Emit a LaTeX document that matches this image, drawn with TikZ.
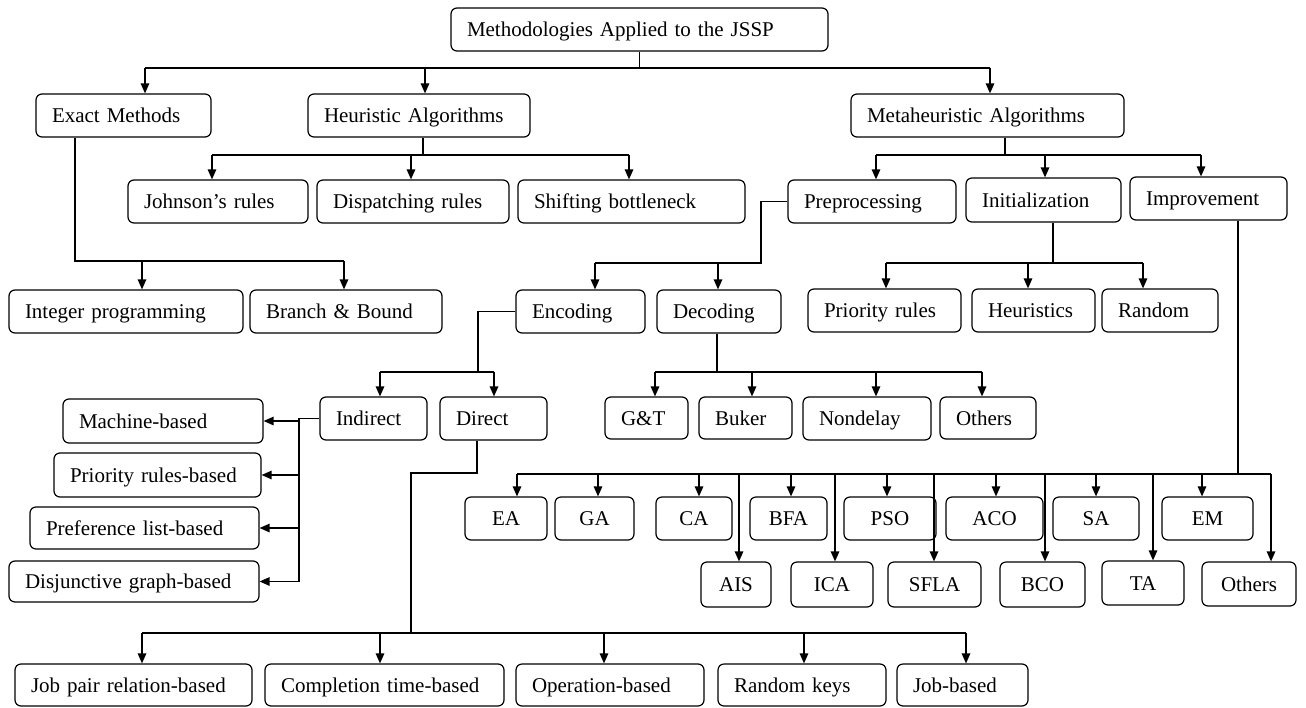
\documentclass[tikz,border=0pt]{standalone}
\usepackage{fontspec}
\setmainfont{Liberation Serif}
\usetikzlibrary{arrows.meta}
\tikzset{
  bx/.style={draw=black, line width=1.2pt, rounded corners=6pt, inner ysep=0pt,
    text height=14pt, text depth=0pt, font=\fontsize{21}{25}\selectfont, text=black},
  ln/.style={draw=black, line width=1.3pt},
  arr/.style={ln, -{Triangle[length=10pt,width=8.5pt]}},
}
\newcommand\Lbox[6]{%
  \pgfmathsetmacro\myBW{#4-#2}\pgfmathsetmacro\myBH{#5-#3}%
  \pgfmathsetmacro\myTW{#4-#2-32}%
  \pgfmathsetmacro\myCX{(#2+#4)/2}\pgfmathsetmacro\myCY{(#3+#5)/2}%
  \node[bx, align=left, inner xsep=16pt, text width=\myTW pt, minimum width=\myBW pt,
    minimum height=\myBH pt] (#1) at (\myCX,\myCY) {#6};}
\newcommand\Cbox[6]{%
  \pgfmathsetmacro\myBW{#4-#2}\pgfmathsetmacro\myBH{#5-#3}%
  \pgfmathsetmacro\myCX{(#2+#4)/2}\pgfmathsetmacro\myCY{(#3+#5)/2}%
  \node[bx, align=center, inner xsep=0pt, text width=\myBW pt, minimum width=\myBW pt,
    minimum height=\myBH pt] (#1) at (\myCX,\myCY) {#6};}
\begin{document}
\begin{tikzpicture}[x=1pt,y=-1pt]
\useasboundingbox (0,0) rectangle (1306,707);
% ---- boxes
\Lbox{top}{451}{8}{828}{51}{Methodologies Applied to the JSSP}
\Lbox{exact}{36}{94}{211}{137}{Exact Methods}
\Lbox{heur}{308}{94}{530}{137}{Heuristic Algorithms}
\Lbox{meta}{851}{94}{1124}{137}{Metaheuristic Algorithms}
\Lbox{john}{128}{180}{308}{223}{Johnson’s rules}
\Lbox{disp}{317}{180}{509}{223}{Dispatching rules}
\Lbox{shift}{518}{180}{745}{223}{Shifting bottleneck}
\Lbox{prep}{788}{180}{956}{223}{Preprocessing}
\Lbox{init}{966}{178}{1121}{222}{Initialization}
\Lbox{impr}{1130}{177}{1287}{220}{Improvement}
\Lbox{intp}{9}{290}{243}{333}{Integer programming}
\Lbox{bb}{250}{290}{442}{333}{Branch \& Bound}
\Lbox{enc}{516}{290}{645}{333}{Encoding}
\Lbox{dec}{657}{290}{781}{333}{Decoding}
\Lbox{prio}{808}{289}{961}{332}{Priority rules}
\Lbox{heurs}{972}{289}{1095}{332}{Heuristics}
\Lbox{rand}{1102}{289}{1218}{332}{Random}
\Lbox{indir}{320}{397}{427}{440}{Indirect}
\Lbox{direct}{440}{397}{547}{440}{Direct}
\Lbox{gt}{605}{397}{688}{439}{G\&T}
\Lbox{buker}{699}{397}{792}{439}{Buker}
\Lbox{nondel}{803}{397}{931}{440}{Nondelay}
\Lbox{othA}{940}{397}{1036}{439}{Others}
\Lbox{mach}{63}{399}{263}{443}{Machine-based}
\Lbox{prb}{54}{453}{261}{497}{Priority rules-based}
\Lbox{pref}{30}{507}{259}{549}{Preference list-based}
\Lbox{disj}{9}{561}{259}{602}{Disjunctive graph-based}
\Cbox{ea}{465}{497}{547}{540}{EA}
\Cbox{ga}{555}{497}{634}{540}{GA}
\Cbox{ca}{656}{497}{732}{540}{CA}
\Cbox{bfa}{750}{497}{827}{540}{BFA}
\Cbox{pso}{844}{497}{936}{540}{PSO}
\Cbox{aco}{946}{497}{1043}{540}{ACO}
\Cbox{sa}{1053}{497}{1139}{540}{SA}
\Cbox{em}{1162}{497}{1253}{540}{EM}
\Cbox{ais}{701}{562}{771}{607}{AIS}
\Cbox{ica}{791}{562}{873}{607}{ICA}
\Cbox{sfla}{888}{562}{981}{607}{SFLA}
\Cbox{bco}{1000}{562}{1085}{607}{BCO}
\Cbox{ta}{1102}{561}{1184}{605}{TA}
\Cbox{othB}{1202}{562}{1296}{606}{Others}
\Lbox{jp}{15}{664}{252}{706}{Job pair relation-based}
\Lbox{ct}{265}{664}{504}{706}{Completion time-based}
\Lbox{op}{516}{664}{704}{706}{Operation-based}
\Lbox{rk}{718}{664}{886}{706}{Random keys}
\Lbox{jb}{897}{664}{1028}{706}{Job-based}
% ---- connectors
% root
\coordinate (b1) at (640,68);
\draw[ln] (top.south) -- (top.south |- b1);
\draw[ln] (145,0 |- b1) -- (990,0 |- b1);
\foreach \xx/\nn in {145/exact,425/heur,990/meta}
  \draw[arr] (\xx,0 |- b1) -- (\xx,0 |- \nn.north);
% heuristic
\coordinate (b2) at (423,155);
\draw[ln] (423,0 |- heur.south) -- (b2);
\draw[ln] (212,0 |- b2) -- (629,0 |- b2);
\foreach \xx/\nn in {212/john,411/disp,629/shift}
  \draw[arr] (\xx,0 |- b2) -- (\xx,0 |- \nn.north);
% exact
\coordinate (b3) at (75,261);
\draw[ln] (75,0 |- exact.south) -- (b3) -- (344,0 |- b3);
\foreach \xx/\nn in {142/intp,344/bb}
  \draw[arr] (\xx,0 |- b3) -- (\xx,0 |- \nn.north);
% metaheuristic
\coordinate (b4) at (1005,155);
\draw[ln] (1005,0 |- meta.south) -- (b4);
\draw[ln] (876,0 |- b4) -- (1201,0 |- b4);
\foreach \xx/\nn in {876/prep,1045/init,1201/impr}
  \draw[arr] (\xx,0 |- b4) -- (\xx,0 |- \nn.north);
% preprocessing
\coordinate (b5) at (761,263);
\draw[ln] (prep.west) -| (b5) -- (595,0 |- b5);
\foreach \xx/\nn in {595/enc,718/dec}
  \draw[arr] (\xx,0 |- b5) -- (\xx,0 |- \nn.north);
% initialization
\coordinate (b6) at (1053,263);
\draw[ln] (1053,0 |- init.south) -- (b6);
\draw[ln] (886,0 |- b6) -- (1143,0 |- b6);
\foreach \xx/\nn in {886/prio,1028/heurs,1143/rand}
  \draw[arr] (\xx,0 |- b6) -- (\xx,0 |- \nn.north);
% encoding
\coordinate (b7) at (478,372);
\draw[ln] (enc.west) -| (b7);
\draw[ln] (380,0 |- b7) -- (494,0 |- b7);
\foreach \xx/\nn in {380/indir,494/direct}
  \draw[arr] (\xx,0 |- b7) -- (\xx,0 |- \nn.north);
% decoding
\coordinate (b8) at (717,372);
\draw[ln] (717,0 |- dec.south) -- (b8);
\draw[ln] (655,0 |- b8) -- (982,0 |- b8);
\foreach \xx/\nn in {655/gt,752/buker,876/nondel,982/othA}
  \draw[arr] (\xx,0 |- b8) -- (\xx,0 |- \nn.north);
% indirect
\coordinate (b9) at (299,0 |- indir.west);
\draw[ln] (indir.west) -- (b9) -- (b9 |- disj);
\foreach \nn in {mach,prb,pref,disj}
  \draw[arr] (b9 |- \nn) -- (\nn);
% direct
\coordinate (b10) at (477,473);
\coordinate (b11) at (411,633);
\draw[ln] (477,0 |- direct.south) -- (b10) -| (b11);
\draw[ln] (142,0 |- b11) -- (966,0 |- b11);
\foreach \xx/\nn in {142/jp,380/ct,604/op,804/rk,966/jb}
  \draw[arr] (\xx,0 |- b11) -- (\xx,0 |- \nn.north);
% improvement
\coordinate (b12) at (1238,474);
\draw[ln] (1238,0 |- impr.south) -- (b12);
\draw[ln] (517,0 |- b12) -- (1271,0 |- b12);
\foreach \xx/\nn in {517/ea,598/ga,699/ca,791/bfa,887/pso,996/aco,1096/sa,1202/em,
                     739/ais,835/ica,934/sfla,1045/bco,1153/ta,1271/othB}
  \draw[arr] (\xx,0 |- b12) -- (\xx,0 |- \nn.north);
\end{tikzpicture}
\end{document}
